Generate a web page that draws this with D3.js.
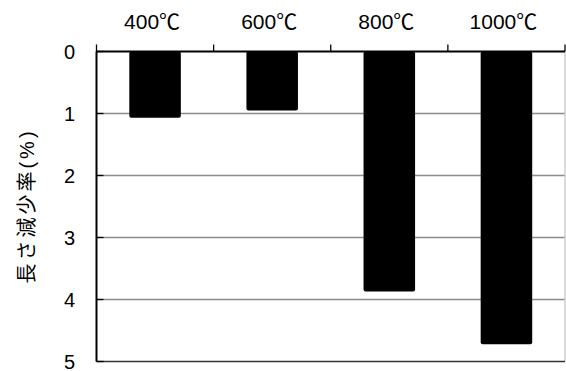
<!DOCTYPE html>
<html>
<head>
<meta charset="utf-8">
<script src="https://cdn.jsdelivr.net/npm/d3@7"></script>
<style>
  body { margin: 0; background: #fff; }
  svg { display: block; }
  text { font-family: "Liberation Sans", Arial, "Noto Sans CJK JP", sans-serif; fill: #000; }
</style>
</head>
<body>
<div id="chart"></div>
<script>
// data
var categories = ["400\u2103", "600\u2103", "800\u2103", "1000\u2103"];
var values = [1.07, 0.95, 3.87, 4.72];
var yTicks = [0, 1, 2, 3, 4, 5];
var yTitle = "長さ減少率(%)";

var width = 566, height = 371;
var plotL = 96.5, plotR = 565, plotT = 51.5, plotB = 361.5;

var svg = d3.select("#chart").append("svg")
    .attr("width", width)
    .attr("height", height);

var x = d3.scaleBand()
    .domain(categories)
    .range([plotL, plotR])
    .paddingInner(0.56)
    .paddingOuter(0.28);

// value 0 at the top, 5 at the bottom
var y = d3.scaleLinear()
    .domain([0, 5])
    .range([plotT, plotB]);

/* gridlines */
svg.append("g").selectAll("line")
    .data(yTicks.filter(function(d){ return d > 0 && d < 5; }))
    .enter().append("line")
    .attr("x1", plotL).attr("x2", plotR)
    .attr("y1", function(d){ return y(d); })
    .attr("y2", function(d){ return y(d); })
    .attr("stroke", "#8c8c8c")
    .attr("stroke-width", 1.3);

// right border and bottom line
svg.append("line")
    .attr("x1", plotR).attr("x2", plotR)
    .attr("y1", plotT).attr("y2", plotB)
    .attr("stroke", "#c8c8c8").attr("stroke-width", 1.3);
svg.append("line")
    .attr("x1", plotL).attr("x2", plotR)
    .attr("y1", y(5)).attr("y2", y(5))
    .attr("stroke", "#333").attr("stroke-width", 1.6);

/* bars hanging from the top */
svg.append("g").selectAll("rect")
    .data(values)
    .enter().append("rect")
    .attr("x", function(d, i){ return x(categories[i]); })
    .attr("y", y(0))
    .attr("width", x.bandwidth())
    .attr("height", function(d){ return y(d) - y(0); })
    .attr("rx", 2)
    .attr("fill", "#000");

/* top axis: boundary ticks pointing up */
var bounds = categories.map(function(c){ return x(c) - x.step() * x.paddingInner() / 2; });
bounds.push(plotR);
svg.append("g").selectAll("line")
    .data(bounds)
    .enter().append("line")
    .attr("x1", function(d){ return d; })
    .attr("x2", function(d){ return d; })
    .attr("y1", plotT).attr("y2", plotT - 7)
    .attr("stroke", "#000").attr("stroke-width", 1.3);
svg.append("line")
    .attr("x1", plotL).attr("x2", plotR)
    .attr("y1", plotT).attr("y2", plotT)
    .attr("stroke", "#000").attr("stroke-width", 2);

svg.append("g").selectAll("text")
    .data(categories)
    .enter().append("text")
    .attr("x", function(d){ return x(d) + x.bandwidth() / 2 - 3; })
    .attr("y", 28.5)
    .attr("text-anchor", "middle")
    .attr("font-size", 21)
    .text(function(d){ return d; });

/* left axis with inward ticks */
svg.append("line")
    .attr("x1", plotL).attr("x2", plotL)
    .attr("y1", plotT).attr("y2", plotB)
    .attr("stroke", "#000").attr("stroke-width", 2);
svg.append("g").selectAll("line")
    .data(yTicks)
    .enter().append("line")
    .attr("x1", plotL).attr("x2", plotL + 7)
    .attr("y1", function(d){ return y(d); })
    .attr("y2", function(d){ return y(d); })
    .attr("stroke", "#000").attr("stroke-width", 1.3);
svg.append("g").selectAll("text")
    .data(yTicks)
    .enter().append("text")
    .attr("x", 75)
    .attr("y", function(d){ return y(d); })
    .attr("dy", "0.36em")
    .attr("text-anchor", "end")
    .attr("font-size", 20)
    .text(function(d){ return d; });

svg.append("text")
    .attr("transform", "translate(34,206) rotate(-90)")
    .attr("text-anchor", "middle")
    .attr("font-size", 20)
    .attr("letter-spacing", 3)
    .text(yTitle);
</script>
</body>
</html>
